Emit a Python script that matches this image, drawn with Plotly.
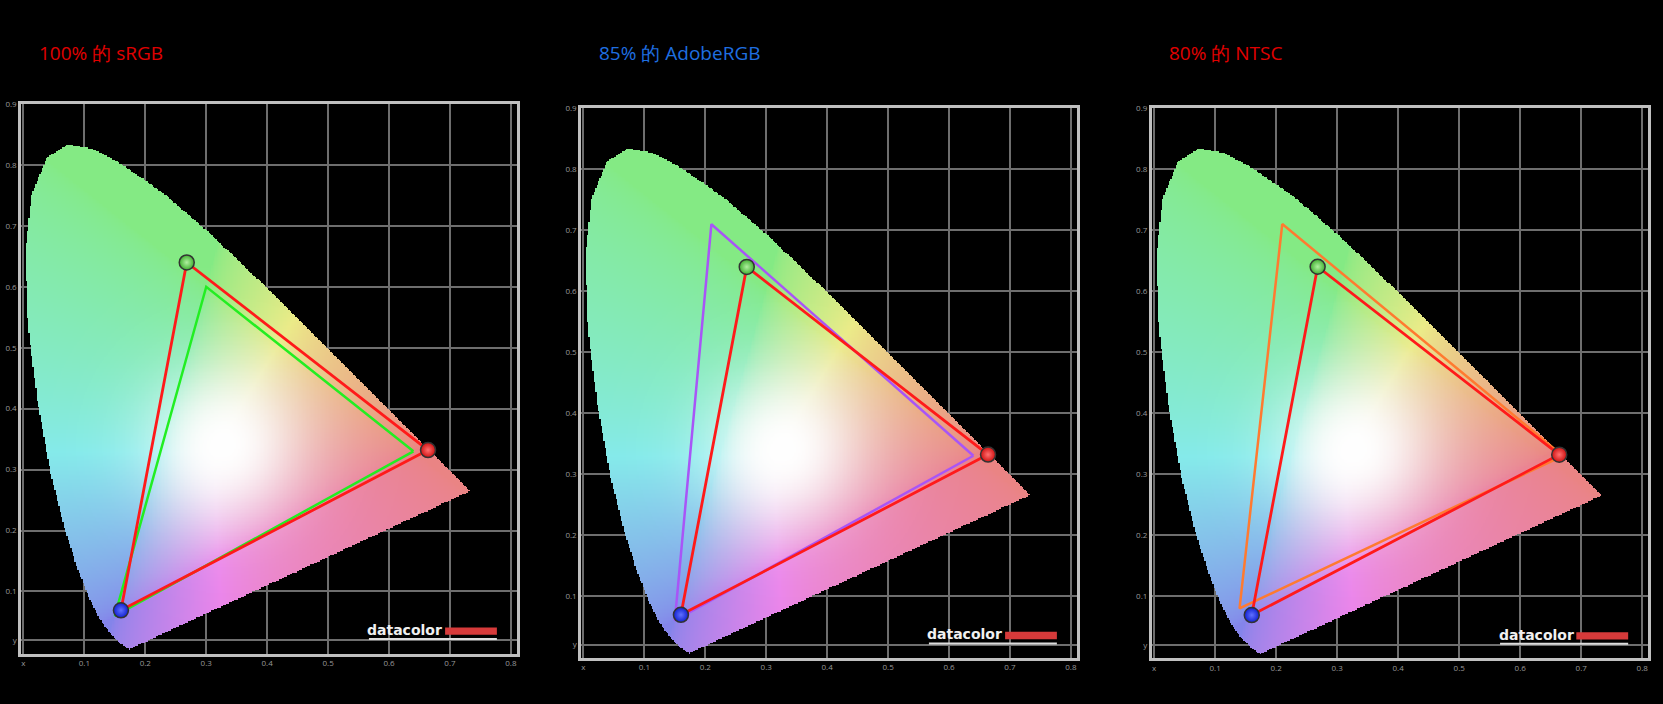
import numpy as np
import plotly.graph_objects as go

# CIE 1931 spectral locus (approx)
locus_x = [0.1741,0.1733,0.1566,0.1440,0.1241,0.1096,0.0913,0.0687,0.0454,0.0235,0.0082,0.0039,0.0139,0.0389,0.0743,0.1142,0.1547,0.2296,0.3016,0.3731,0.4441,0.5125,0.5752,0.6270,0.6915,0.7190,0.7347]
locus_y = [0.0050,0.0048,0.0177,0.0297,0.0578,0.0868,0.1327,0.2007,0.2950,0.4127,0.5384,0.6548,0.7502,0.8120,0.8338,0.8262,0.8059,0.7543,0.6923,0.6245,0.5547,0.4866,0.4242,0.3725,0.3083,0.2809,0.2653]

titles = ["100% 的 sRGB", "85% 的 AdobeRGB", "80% 的 NTSC"]
title_colors = ["#e00000", "#1f6fe0", "#e00000"]

# measured display primaries (R, G, B)
meas_x = [0.664, 0.268, 0.160]
meas_y = [0.332, 0.640, 0.069]

# reference gamuts (R, G, B)
ref_x = [[0.64, 0.30, 0.15], [0.64, 0.21, 0.15], [0.67, 0.21, 0.14]]
ref_y = [[0.33, 0.60, 0.06], [0.33, 0.71, 0.06], [0.33, 0.71, 0.08]]
ref_colors = ["#22ee22", "#a855f7", "#ff7a30"]

tick_vals = [0, 0.1, 0.2, 0.3, 0.4, 0.5, 0.6, 0.7, 0.8]
xtick_text = ["x", "0.1", "0.2", "0.3", "0.4", "0.5", "0.6", "0.7", "0.8"]
ytick_vals = [0.02, 0.1, 0.2, 0.3, 0.4, 0.5, 0.6, 0.7, 0.8, 0.9]
ytick_text = ["y", "0.1", "0.2", "0.3", "0.4", "0.5", "0.6", "0.7", "0.8", "0.9"]

W, H = 1663, 704
panels_px = [(21, 517, 98, 654), (581, 1077, 103, 658), (1151, 1649, 103, 658)]

# colour field inside locus
nx, ny = 360, 405
dx, dy = 0.8 / nx, 0.9 / ny
gx = (np.arange(nx) + 0.5) * dx
gy = (np.arange(ny) + 0.5) * dy
X, Y = np.meshgrid(gx, gy)
px = np.array(locus_x); py = np.array(locus_y)
inside = np.zeros(X.shape, bool)
n = len(px)
for i in range(n):
    x1, y1 = px[i], py[i]; x2, y2 = px[(i + 1) % n], py[(i + 1) % n]
    cond = ((y1 > Y) != (y2 > Y))
    xint = (x2 - x1) * (Y - y1) / (y2 - y1 + 1e-12) + x1
    inside ^= cond & (X < xint)
Xc = X / Y; Zc = (1 - X - Y) / Y
M = np.array([[3.2406, -1.5372, -0.4986], [-0.9689, 1.8758, 0.0415], [0.0557, -0.2040, 1.0570]])
rgb = np.stack([M[k, 0] * Xc + M[k, 1] + M[k, 2] * Zc for k in range(3)], -1)
rgb = np.clip(rgb, 0, None)
rgb = rgb / (rgb.max(-1, keepdims=True) + 1e-9)
rgb = rgb ** 0.6
base = 0.52 + 0.40 * rgb
w = np.exp(-(((X - 0.33) ** 2) / 0.015 + ((Y - 0.34) ** 2) / 0.015))
col = w[..., None] * 1.0 + (1 - w[..., None]) * base
col = np.clip(col * 255, 0, 255)
alpha = np.where(inside, 255, 0)
img = np.concatenate([col, alpha[..., None]], -1).astype(np.uint8)

fig = go.Figure()
for p in range(3):
    xa = "x" if p == 0 else f"x{p+1}"
    ya = "y" if p == 0 else f"y{p+1}"
    fig.add_trace(go.Image(z=img, colormodel="rgba", x0=dx / 2, dx=dx, y0=dy / 2, dy=dy,
                           xaxis=xa, yaxis=ya, hoverinfo="skip"))
    fig.add_trace(go.Scatter(x=ref_x[p] + [ref_x[p][0]], y=ref_y[p] + [ref_y[p][0]], mode="lines",
                             line=dict(color=ref_colors[p], width=2.5), xaxis=xa, yaxis=ya, showlegend=False))
    fig.add_trace(go.Scatter(x=meas_x + [meas_x[0]], y=meas_y + [meas_y[0]], mode="lines",
                             line=dict(color="#ff1a1a", width=2.8), xaxis=xa, yaxis=ya, showlegend=False))
    fig.add_trace(go.Scatter(x=meas_x, y=meas_y, mode="markers", xaxis=xa, yaxis=ya, showlegend=False,
                             marker=dict(size=15, color=["#d01010", "#40b030", "#1020d0"],
                                         gradient=dict(type="radial", color=["#ff7070", "#b0f0a0", "#6070ff"]),
                                         line=dict(color="#333333", width=1.5))))
    l, r, t, b = panels_px[p]
    sfx = "" if p == 0 else str(p + 1)
    common = dict(showgrid=True, gridcolor="#6e6e6e", gridwidth=1.5, zeroline=False,
                  showline=True, linecolor="#c0c0c0", linewidth=2.5, mirror=True,
                  tickfont=dict(size=8, color="#999999"), ticks="", fixedrange=True)
    fig.layout["xaxis" + sfx] = dict(domain=[l / W, r / W], range=[-0.004, 0.81], anchor=ya,
                                     tickvals=tick_vals, ticktext=xtick_text, **common)
    fig.layout["yaxis" + sfx] = dict(domain=[1 - b / H, 1 - t / H], range=[-0.002, 0.9], anchor=xa,
                                     tickvals=ytick_vals, ticktext=ytick_text, **common)
    fig.add_annotation(x=l / W + 16 / W, y=1 - 47 / H, xref="paper", yref="paper", text=titles[p],
                       showarrow=False, xanchor="left", yanchor="middle", font=dict(size=19, color=title_colors[p]))
    fig.add_annotation(x=0.691, y=0.037, xref=xa, yref=ya, text="<b>datacolor</b>", showarrow=False,
                       xanchor="right", font=dict(size=14, color="#f0f0f0", family="DejaVu Sans"))
    fig.add_shape(type="rect", x0=0.692, x1=0.777, y0=0.029, y1=0.041, xref=xa, yref=ya,
                  fillcolor="#d63a3a", line=dict(width=0))
    fig.add_shape(type="line", x0=0.567, x1=0.777, y0=0.022, y1=0.022, xref=xa, yref=ya,
                  line=dict(color="#dddddd", width=2))

fig.update_layout(width=W, height=H, margin=dict(l=0, r=0, t=0, b=0),
                  paper_bgcolor="black", plot_bgcolor="black", showlegend=False)
fig.write_html("out.html", config={"displayModeBar": False},
               post_script="document.body.style.margin='0';document.body.style.background='black';")
